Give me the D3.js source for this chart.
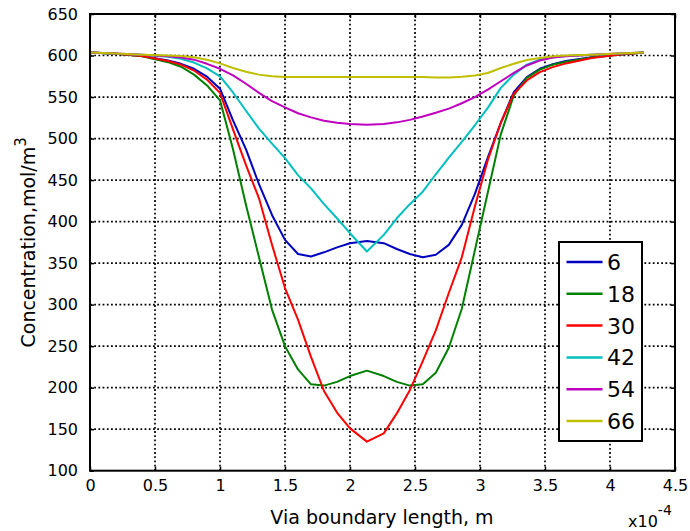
<!DOCTYPE html>
<html>
<head>
<meta charset="utf-8">
<script src="https://cdn.jsdelivr.net/npm/d3@7"></script>
<style>
  body { margin: 0; background: #fff; }
  text { font-family: "DejaVu Sans", Verdana, sans-serif; fill: #000; }
</style>
</head>
<body>
<div id="chart"></div>
<script>
// x positions (x10^-4 m)
const xGrid = [0, 0.2, 0.4, 0.6, 0.7, 0.8, 0.9, 1.0, 1.1, 1.2, 1.3, 1.4, 1.5, 1.6, 1.7, 1.8, 1.9, 2.0, 2.13,
  2.26, 2.36, 2.46, 2.56, 2.66, 2.76, 2.86, 2.96, 3.06, 3.16, 3.26, 3.36, 3.46, 3.56, 3.66, 3.86, 4.06, 4.26];

// concentration values
const conc6 = [603.5, 602, 599.5, 594, 590, 584, 574.5, 560, 522, 487, 445, 408, 378, 361, 358, 363, 369, 374, 376.5,
  374, 367, 361, 357, 360, 372, 396, 433, 477, 519, 556, 574, 584, 589.5, 593.5, 598, 601, 603.5];
const conc18 = [603.5, 602, 599, 592, 586.5, 577, 564, 546, 487, 420, 357, 294, 250, 222, 204, 202.5, 207, 214, 220.5,
  214, 207, 202.5, 204, 218, 248, 295, 365, 435, 505, 552, 573, 583, 589, 592.5, 597.5, 601, 603.5];
const conc30 = [603.5, 602, 599.5, 593.5, 589, 582, 571, 555, 511, 468, 428, 372, 320, 282, 237, 196, 170, 151, 135,
  145, 169, 197, 232, 269, 314, 357, 418, 474, 519, 554, 570, 580, 586, 590.5, 597, 601, 603.5];
const conc42 = [603.5, 602, 601, 598.5, 596, 591.5, 584.5, 575, 555.5, 533.5, 512, 494, 476.5, 456, 440, 421, 404, 386, 364,
  384, 404, 421, 436, 457, 477, 496, 516, 537, 561, 577, 589, 595, 598, 599.5, 601, 602, 603.5];
const conc54 = [603.5, 602.5, 601, 599, 597.5, 595, 590, 584, 576, 566, 555, 545, 537.5, 530.5, 525.5, 521.5, 519, 517.5, 516.5,
  517.5, 519.5, 522.5, 526.5, 531, 536, 542.5, 550, 559, 569, 579, 588, 594, 597.5, 599, 601, 602.5, 603.5];
const conc66 = [603.5, 602.5, 601, 600, 599.5, 598, 595, 590.5, 585, 580.5, 577, 575, 574, 574, 574, 574, 574, 574, 574,
  574, 574, 574, 574, 573.5, 573.5, 574.5, 576, 579, 585, 590, 594.5, 597, 599, 600, 601, 602.5, 603.5];

const seriesNames = ["6", "18", "30", "42", "54", "66"];
const seriesValues = [conc6, conc18, conc30, conc42, conc54, conc66];
const seriesColors = ["#0000bf", "#008000", "#ff0000", "#00bfbf", "#bf00bf", "#bfbf00"];

const xTicks = [0, 0.5, 1, 1.5, 2, 2.5, 3, 3.5, 4, 4.5];
const yTicks = [100, 150, 200, 250, 300, 350, 400, 450, 500, 550, 600, 650];

const width = 690;
const height = 531;
const margin = { top: 14, right: 15, bottom: 60.3, left: 90 };

const svg = d3.select("#chart").append("svg")
  .attr("width", width)
  .attr("height", height);

const x = d3.scaleLinear().domain([0, 4.5]).range([margin.left, width - margin.right]);
const y = d3.scaleLinear().domain([100, 650]).range([height - margin.bottom, margin.top]);

// grid
const grid = svg.append("g")
  .attr("stroke", "#000")
  .attr("stroke-width", 1.7)
  .attr("stroke-dasharray", "1.8,2.4");

grid.selectAll(".vg")
  .data(xTicks.slice(1, -1))
  .join("line")
  .attr("x1", d => x(d)).attr("x2", d => x(d))
  .attr("y1", y(100)).attr("y2", y(650));

grid.selectAll(".hg")
  .data(yTicks.slice(1, -1))
  .join("line")
  .attr("x1", x(0)).attr("x2", x(4.5))
  .attr("y1", d => y(d)).attr("y2", d => y(d));

// axes with small inward ticks
svg.append("g")
  .attr("transform", `translate(0,${y(100)})`)
  .call(d3.axisBottom(x).tickValues(xTicks).tickFormat(d3.format("")).tickSizeInner(-4).tickSizeOuter(0).tickPadding(9))
  .call(g => g.select(".domain").remove())
  .call(g => g.selectAll("line").attr("stroke-width", 1.5))
  .selectAll("text")
  .attr("font-size", 16)
  .style("font-family", "DejaVu Sans");

svg.append("g")
  .attr("transform", `translate(${x(0)},0)`)
  .call(d3.axisLeft(y).tickValues(yTicks).tickSizeInner(-4).tickSizeOuter(0).tickPadding(12))
  .call(g => g.select(".domain").remove())
  .call(g => g.selectAll("line").attr("stroke-width", 1.5))
  .selectAll("text")
  .attr("font-size", 16)
  .style("font-family", "DejaVu Sans");

svg.append("g")
  .attr("transform", `translate(0,${y(650)})`)
  .call(d3.axisTop(x).tickValues(xTicks).tickFormat("").tickSizeInner(-4).tickSizeOuter(0))
  .call(g => g.select(".domain").remove())
  .call(g => g.selectAll("line").attr("stroke-width", 1.5));

svg.append("g")
  .attr("transform", `translate(${x(4.5)},0)`)
  .call(d3.axisRight(y).tickValues(yTicks).tickFormat("").tickSizeInner(-4).tickSizeOuter(0))
  .call(g => g.select(".domain").remove())
  .call(g => g.selectAll("line").attr("stroke-width", 1.5));

// curves
const line = d3.line()
  .x((d, i) => x(xGrid[i]))
  .y(d => y(d));

svg.append("g")
  .selectAll("path")
  .data(seriesValues)
  .join("path")
  .attr("fill", "none")
  .attr("stroke", (d, i) => seriesColors[i])
  .attr("stroke-width", 2)
  .attr("stroke-linejoin", "round")
  .attr("d", d => line(d));

// frame
svg.append("rect")
  .attr("x", x(0)).attr("y", y(650))
  .attr("width", x(4.5) - x(0))
  .attr("height", y(100) - y(650))
  .attr("fill", "none")
  .attr("stroke", "#000")
  .attr("stroke-width", 2);

// legend
const legend = svg.append("g").attr("transform", "translate(559,242)");
legend.append("rect")
  .attr("width", 83).attr("height", 199)
  .attr("fill", "#fff")
  .attr("stroke", "#000")
  .attr("stroke-width", 2);

const items = legend.selectAll(".item")
  .data(seriesNames)
  .join("g")
  .attr("transform", (d, i) => `translate(0,${20 + i * 31.8})`);

items.append("line")
  .attr("x1", 7.5).attr("x2", 43.5)
  .attr("stroke", (d, i) => seriesColors[i])
  .attr("stroke-width", 2.5);

items.append("text")
  .attr("x", 48)
  .attr("dy", "0.36em")
  .attr("font-size", 22)
  .text(d => d);

// axis titles
svg.append("text")
  .attr("x", 382)
  .attr("y", 524)
  .attr("text-anchor", "middle")
  .attr("font-size", 19)
  .text("Via boundary length, m");

const yTitle = svg.append("text")
  .attr("transform", `translate(35,${(y(100) + y(650)) / 2}) rotate(-90)`)
  .attr("text-anchor", "middle")
  .attr("font-size", 19);
yTitle.append("tspan").text("Concentration,mol/m");
yTitle.append("tspan").attr("dy", -9).attr("font-size", 15).text("3");

const mult = svg.append("text")
  .attr("x", 628)
  .attr("y", 527)
  .attr("font-size", 16);
mult.append("tspan").text("x10");
mult.append("tspan").attr("dy", -12).attr("font-size", 14).text("-4");
</script>
</body>
</html>
